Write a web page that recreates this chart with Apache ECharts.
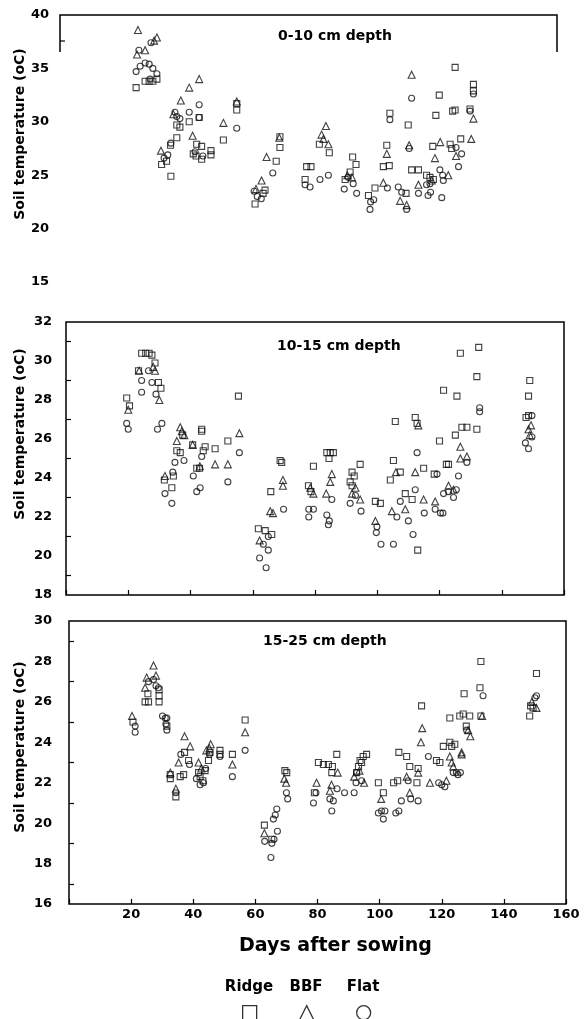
<!DOCTYPE html>
<html>
<head>
<meta charset="utf-8">
<title>Soil temperature</title>
<script src="https://cdn.jsdelivr.net/npm/echarts@6/dist/echarts.min.js"></script>
<style>
  html, body { margin: 0; padding: 0; background: #fff; }
  #main { width: 584px; height: 1019px; }
</style>
</head>
<body>
<div id="main"></div>
<script>
// points are [day after sowing, soil temperature]

// 0-10 cm depth
const ridge0_10 = [
  [24.5,33.2],[27.4,33.8],[28.7,33.8],[29.9,33.8],[31.2,34.0],
  [32.7,26.0],[34.3,26.3],[35.6,27.8],[37.6,28.5],[35.7,24.9],[37.6,29.7],[38.6,29.5],
  [41.6,30.0],[44.8,30.4],[44.0,27.9],[45.6,27.7],[42.9,27.0],[43.8,26.8],[45.6,26.5],
  [48.6,27.3],[48.6,26.9],[52.6,28.3],[56.9,31.7],[56.9,31.1],
  [62.8,22.3],[65.4,23.3],[66.0,23.6],[69.6,26.3],[70.8,27.6],[70.8,28.6],
  [83.5,27.9],[86.7,27.1],[79.4,25.8],[80.8,25.8],[78.9,24.6],
  [94.2,26.7],[95.3,26.0],[93.4,25.3],[91.8,24.6],
  [101.4,23.8],[99.3,23.1],
  [106.2,30.8],[105.2,27.8],[104.1,25.8],[106.0,25.9],[111.4,23.3],
  [112.1,29.7],[113.2,25.5],[115.4,25.5],
  [118.0,25.0],[119.1,24.8],[120.2,24.6],
  [122.1,32.5],[121.0,30.6],[120.0,27.7],
  [125.6,27.9],[126.1,27.5],[126.4,31.0],[127.2,31.1],[127.2,35.1],[129.0,28.4],
  [133.1,33.5],[133.1,32.9],[132.0,31.2]
];
const bbf0_10 = [
  [25.1,38.6],[24.8,36.3],[27.4,36.7],[30.3,37.6],[31.2,37.9],
  [32.5,27.3],[38.9,32.0],[41.6,33.2],[44.8,34.0],[42.7,28.7],[36.5,30.7],
  [52.6,29.9],[56.9,31.9],
  [63.1,23.7],[64.9,24.5],[66.5,26.7],[70.6,28.5],
  [85.6,29.6],[84.2,28.8],[84.8,28.4],[86.4,27.9],
  [92.5,25.0],[94.0,24.8],
  [104.1,24.3],[105.2,27.0],[109.5,22.6],[111.6,22.2],
  [113.2,34.4],[112.4,27.8],[115.4,24.1],
  [120.7,26.6],[119.7,24.5],[122.4,28.1],[125.0,25.0],
  [127.5,26.8],[133.1,30.3],[132.4,28.4]
];
const flat0_10 = [
  [25.4,36.7],[29.3,37.4],[24.5,34.7],[25.8,35.2],[27.4,35.5],[28.7,35.4],[29.9,35.0],[31.2,34.5],[29.0,34.0],
  [34.7,26.9],[35.7,28.0],[33.5,26.6],[37.0,30.9],[37.6,30.5],[38.6,30.3],
  [41.6,30.9],[44.8,31.6],[44.8,30.4],[43.5,27.2],[46.0,26.8],
  [56.9,29.4],
  [63.5,23.0],[64.8,22.8],[62.5,23.5],[68.5,25.2],
  [78.9,24.1],[80.5,23.9],[83.7,24.6],[86.4,25.0],
  [91.5,23.7],[95.5,23.3],[94.4,24.2],[92.8,24.8],
  [100.0,22.5],[99.8,21.8],[101.0,22.7],
  [106.2,30.2],[105.4,23.8],[108.9,23.9],[110.0,23.4],[111.6,21.8],
  [113.2,32.2],[112.4,27.5],[115.4,23.3],
  [118.0,24.1],[118.5,23.1],[119.3,23.4],[119.1,24.2],
  [122.3,25.5],[123.2,25.0],[123.4,24.5],[122.9,22.9],
  [128.3,25.8],[129.3,27.0],[127.5,27.6],
  [132.0,31.0],[133.1,32.6]
];

// 10-15 cm depth
const ridge10_15 = [
  [19.5,28.1],[20.4,27.7],
  [24.3,30.4],[25.6,30.4],[26.7,30.4],[27.6,30.3],[28.6,29.9],[23.3,29.5],[29.7,28.9],[30.5,28.6],
  [31.6,23.9],[34.0,23.5],[34.5,24.1],[35.6,25.4],[36.7,25.3],[37.5,26.2],
  [40.7,25.7],[42.0,24.5],[42.9,24.5],[43.6,26.5],[43.6,26.4],[44.1,25.4],[44.7,25.6],
  [47.9,25.5],[52.0,25.9],[55.4,28.2],
  [61.8,21.4],[64.0,21.3],[66.1,21.1],[65.8,23.3],[69.3,24.8],[68.8,24.9],
  [79.5,24.6],[77.9,23.6],[78.7,23.3],[83.8,25.3],[84.9,25.3],[85.9,25.3],[84.5,25.0],
  [94.5,24.7],[91.9,24.3],[92.6,24.1],[91.3,23.8],[91.9,23.6],
  [99.4,22.8],[101.0,22.7],
  [105.2,24.9],[104.2,23.9],[107.4,24.3],[114.9,24.5],[109.0,23.2],[111.2,22.9],
  [105.8,26.9],[112.2,27.1],[112.8,26.8],[113.0,20.3],
  [118.3,24.2],[122.2,24.7],[122.9,24.7],
  [120.0,25.9],[125.1,26.2],[121.3,28.5],[125.6,28.2],[126.7,30.4],[132.6,30.7],[132.0,29.2],
  [127.2,26.6],[128.8,26.6],[132.0,26.5],
  [149.0,29.0],[148.6,28.2],[147.8,27.1],[148.6,27.2]
];
const bbf10_15 = [
  [20.0,27.5],[23.5,29.5],[28.6,29.5],[30.0,28.0],[28.0,29.7],
  [31.8,24.1],[35.6,25.9],[36.7,26.6],[37.2,26.4],[38.0,26.2],[40.7,25.7],[43.0,24.6],
  [47.9,24.7],[52.0,24.7],[55.7,26.3],
  [62.2,20.8],[65.6,22.3],[66.5,22.2],[69.7,23.9],[69.7,23.6],
  [79.5,23.2],[78.5,23.5],[85.4,24.2],[84.9,23.8],[83.6,23.2],
  [91.9,23.2],[94.5,22.9],[93.0,23.5],
  [99.4,21.8],[104.7,22.3],[109.0,22.4],[114.9,22.9],[112.2,24.3],[106.0,24.3],[113.2,26.7],
  [118.6,22.8],[122.9,23.6],[124.5,23.4],[128.8,25.1],[126.7,25.0],[126.7,25.6],
  [148.6,26.5],[149.4,26.7],[149.0,26.2]
];
const flat10_15 = [
  [19.5,26.8],[20.0,26.5],
  [24.3,29.0],[26.5,29.5],[27.6,28.9],[28.9,28.3],[24.3,28.4],[29.4,26.5],[30.8,26.8],
  [31.8,23.2],[34.0,22.7],[34.3,24.3],[35.0,24.8],[37.9,24.9],
  [40.9,24.1],[42.0,23.3],[43.1,23.5],[43.6,25.1],[52.0,23.8],[55.7,25.3],
  [63.4,20.6],[65.0,20.3],[62.2,19.9],[64.3,19.4],[65.0,21.0],[69.9,22.4],
  [78.0,22.4],[79.5,22.4],[78.0,22.0],[85.4,22.9],[83.8,22.1],[84.6,21.8],[84.3,21.6],
  [91.3,22.7],[94.8,22.3],[93.0,23.1],
  [99.9,21.5],[99.7,21.2],[101.2,20.6],[105.2,20.6],
  [106.3,22.0],[107.4,22.8],[110.0,21.8],[111.5,21.1],[112.2,23.4],[115.1,22.2],[112.8,25.3],
  [119.2,24.2],[121.3,23.2],[122.9,23.3],[124.5,23.0],[125.4,23.4],[126.1,24.1],
  [118.6,22.4],[120.3,22.2],[121.1,22.2],[128.8,24.8],[132.9,27.4],[132.9,27.6],
  [147.6,25.8],[148.6,25.5],[149.7,26.1],[149.7,27.2]
];

// 15-25 cm depth
const ridge15_25 = [
  [20.6,25.0],[24.5,26.0],[25.6,26.0],[25.4,26.4],[29.0,26.6],[29.0,26.3],[29.0,26.0],[31.5,24.8],
  [32.6,22.4],[32.6,22.2],[34.4,21.3],[35.8,22.3],[36.9,22.4],[38.5,23.1],[37.2,23.5],
  [41.7,22.5],[42.2,22.3],[43.1,22.1],[43.8,22.6],[44.9,23.1],[45.4,23.5],
  [48.6,23.6],[48.6,23.4],[52.6,23.4],[56.7,25.1],
  [62.9,19.9],[65.3,19.2],[69.5,22.6],[70.1,22.5],
  [80.3,23.0],[81.9,22.9],[83.5,22.9],[84.8,22.8],[86.2,23.4],[84.6,22.5],[79.0,21.5],
  [95.8,23.4],[94.7,23.3],[93.7,23.1],[93.2,22.8],[92.6,22.5],[94.2,23.0],
  [99.6,22.0],[101.2,21.5],
  [106.2,23.5],[108.7,23.3],[104.5,22.0],[105.8,22.1],[109.7,22.8],[112.0,22.0],[112.4,22.7],
  [113.5,25.8],[118.3,23.1],[119.4,23.0],
  [120.5,23.8],[122.6,24.0],[124.2,23.9],[123.2,23.8],
  [122.6,25.2],[125.8,25.3],[126.9,25.4],[129.0,25.3],[127.9,24.8],[127.2,26.4],
  [132.6,28.0],[132.3,26.7],[132.6,25.3],
  [150.5,27.4],[148.6,25.8],[149.4,25.7],[148.3,25.3]
];
const bbf15_25 = [
  [20.3,25.3],[27.2,27.8],[28.0,27.3],[24.5,26.7],[25.0,27.2],
  [32.6,22.5],[34.4,21.7],[35.3,23.0],[37.2,24.3],[39.0,23.8],
  [41.7,23.0],[42.6,22.7],[44.2,23.6],[45.6,23.9],[45.2,23.7],
  [52.6,22.9],[56.7,24.5],
  [62.9,19.5],[69.9,22.0],[69.3,22.2],
  [79.7,22.0],[84.0,21.6],[86.5,22.5],[84.5,21.9],
  [91.8,22.3],[95.0,22.0],[93.5,22.6],
  [100.5,21.2],[108.7,22.3],[109.7,21.5],[112.4,22.5],[113.7,24.7],[113.3,24.0],
  [116.2,22.0],[121.5,22.1],
  [122.6,23.3],[123.2,23.0],[123.7,22.8],[126.4,23.5],[126.4,23.4],[128.5,24.6],[129.2,24.3],
  [133.0,25.3],
  [150.5,25.7],[149.0,26.0]
];
const flat15_25 = [
  [21.3,24.8],[21.3,24.5],
  [25.6,27.0],[27.2,27.1],[28.0,26.8],[28.8,26.7],
  [30.1,25.3],[31.0,25.2],[31.5,25.2],[31.2,24.9],[31.5,24.6],
  [34.4,21.5],[36.0,23.4],[38.8,22.9],
  [42.2,21.9],[43.3,22.0],[44.0,22.7],[45.2,23.4],[41.0,22.2],
  [48.6,23.3],[52.6,22.3],[56.7,23.6],
  [63.0,19.1],[65.3,19.0],[66.0,19.2],[65.0,18.3],[66.9,20.7],[66.4,20.4],[65.8,20.2],[67.1,19.6],
  [70.0,21.5],[70.4,21.2],
  [78.7,21.0],[84.0,21.2],[85.1,21.1],[84.6,20.6],[79.5,21.5],[86.3,21.7],
  [92.6,22.5],[94.2,22.1],[92.4,22.0],[91.8,21.5],[88.7,21.5],
  [99.6,20.5],[100.6,20.6],[101.7,20.6],[101.2,20.2],
  [105.2,20.5],[106.2,20.6],[107.0,21.1],[109.2,22.1],[110.0,21.2],[112.4,21.1],
  [115.7,23.3],[119.0,22.0],[121.0,21.8],[120.0,21.9],
  [123.7,22.5],[124.7,22.5],[125.2,22.4],[126.0,22.5],[128.0,24.6],
  [133.3,26.3],[150.5,26.3],[150.0,26.2]
];

const treatments = ['Ridge', 'BBF', 'Flat'];
const depthTitles = ['0-10 cm depth', '10-15 cm depth', '15-25 cm depth'];
const panelData = [
  [ridge0_10, bbf0_10, flat0_10],
  [ridge10_15, bbf10_15, flat10_15],
  [ridge15_25, bbf15_25, flat15_25]
];
// y scale per panel: min, max, step between labels
const yMin = [15, 18, 16];
const yMax = [40, 32, 30];
const yStep = [5, 2, 2];
// x scale (days), shared
const xMin = 0, xMax = 160, xStep = 20;
const yTitle = 'Soil temperature (oC)';
const xTitle = 'Days after sowing';

const FONT = 'DejaVu Sans';
const symbols = ['rect', 'triangle', 'circle'];
const symbolSizes = [6, 7, 6];

// panel boxes on the page
const grids = [
  {left: 60, top: 15, width: 497, height: 267},
  {left: 66, top: 322, width: 498, height: 273, show: true, borderColor: '#000', borderWidth: 1.5},
  {left: 69, top: 621, width: 497, height: 283, show: true, borderColor: '#000', borderWidth: 1.5}
];
const labelMargins = [11, 14, 17];

const myChart = echarts.init(document.getElementById('main'), null, {renderer: 'canvas'});

let xAxis = grids.map((g, i) => ({
  gridIndex: i,
  type: 'value',
  min: xMin, max: xMax, interval: xStep,
  show: i > 0,
  axisLine: {show: false},
  axisTick: {show: true, inside: true, length: 5, lineStyle: {color: '#000', width: 1.2}},
  splitLine: {show: false},
  axisLabel: {
    show: i === 2,
    margin: 4,
    color: '#000', fontSize: 13, fontWeight: 'bold', fontFamily: FONT,
    formatter: v => (v === 0 ? '' : v)
  },
  name: i === 2 ? xTitle : '',
  nameLocation: 'middle',
  nameGap: 33,
  nameTextStyle: {color: '#000', fontSize: 19, fontWeight: 'bold', fontFamily: FONT, padding: [0, 0, 0, 36]}
}));

let yAxis = grids.map((g, i) => ({
  gridIndex: i,
  type: 'value',
  min: yMin[i], max: yMax[i], interval: yStep[i],
  axisLine: {show: false},
  axisTick: {show: false, inside: true},
  minorTick: {show: i > 0, splitNumber: 2, length: 5, lineStyle: {color: '#000', width: 1.2}},
  splitLine: {show: false},
  axisLabel: {margin: labelMargins[i], color: '#000', fontSize: 13, fontWeight: 'bold', fontFamily: FONT}
}));

let series = [];
panelData.forEach((sets, p) => {
  sets.forEach((pts, t) => {
    series.push({
      type: 'scatter',
      name: treatments[t],
      xAxisIndex: p,
      yAxisIndex: p,
      symbol: symbols[t],
      symbolSize: symbolSizes[t],
      itemStyle: {color: 'rgba(0,0,0,0)', borderColor: '#111', borderWidth: 1.1},
      emphasis: {disabled: true},
      data: pts
    });
  });
});

// title positions of each panel
const titlePos = [[278, 29], [277, 339], [263, 634]];
// y-axis title centres
const yTitleY = [134, 434, 747];
// legend columns
const legendX = [249, 306, 363];

let graphic = [
  // top panel only has a partial frame in the original
  {
    type: 'polyline',
    shape: {points: [[60, 52], [60, 15], [557, 15], [557, 52]]},
    style: {stroke: '#000', lineWidth: 1.5, fill: null}
  },
  {
    type: 'line',
    shape: {x1: 60, y1: 41, x2: 65, y2: 41},
    style: {stroke: '#000', lineWidth: 1.2}
  }
];
yTitleY.forEach(y => {
  graphic.push({
    type: 'text', x: 20, y: y, rotation: Math.PI / 2,
    style: {text: yTitle, fill: '#000', fontSize: 14, fontWeight: 'bold', fontFamily: FONT, align: 'center', verticalAlign: 'middle'}
  });
});
treatments.forEach((name, i) => {
  graphic.push({
    type: 'text', x: legendX[i], y: 987,
    style: {text: name, fill: '#000', fontSize: 15, fontWeight: 'bold', fontFamily: FONT, align: 'center', verticalAlign: 'middle'}
  });
});

const option = {
  backgroundColor: '#fff',
  animation: false,
  title: depthTitles.map((t, i) => ({
    text: t, left: titlePos[i][0], top: titlePos[i][1], padding: 0,
    textStyle: {color: '#000', fontSize: 14, fontWeight: 'bold', fontFamily: FONT}
  })),
  legend: treatments.map((name, i) => ({
    data: [name],
    left: legendX[i] - 7, top: 1005, padding: 0,
    itemWidth: 14, itemHeight: 14,
    selectedMode: false,
    formatter: () => '',
    itemStyle: {color: 'rgba(0,0,0,0)', borderColor: '#000', borderWidth: 1.3}
  })),
  grid: grids,
  xAxis: xAxis,
  yAxis: yAxis,
  series: series,
  graphic: graphic
};

myChart.setOption(option);
</script>
</body>
</html>
